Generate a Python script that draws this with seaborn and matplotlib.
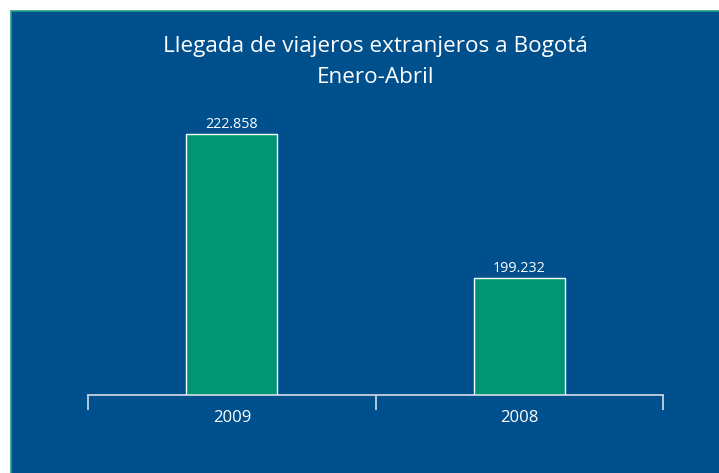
import matplotlib
matplotlib.use("Agg")
import matplotlib.pyplot as plt
import seaborn as sns
import pandas as pd
from matplotlib.patches import Rectangle

# Data
years = ["2009", "2008"]
travelers = [222858, 199232]
title_lines = ["Llegada de viajeros extranjeros a Bogotá", "Enero-Abril"]

sns.set_style("white")
plt.rcParams["font.family"] = ["Open Sans", "DejaVu Sans"]

W, H = 719, 473
fig = plt.figure(figsize=(W / 100, H / 100), dpi=100)
fig.patch.set_facecolor("white")

BLUE = "#00508E"
GREEN = "#009673"
AXIS = "#D3DEEA"

# blue panel with green border
fig.patches.append(Rectangle((11 / W, -0.1), 1.2, (H - 11) / H + 0.1,
                             transform=fig.transFigure, facecolor=BLUE,
                             edgecolor="#1FA37A", linewidth=1.2, zorder=-5))

ax_bottom = (H - 395) / H
ax_top_px = 100
ax = fig.add_axes([88 / W, ax_bottom, (663 - 88) / W, (395 - ax_top_px) / H])
ax.set_facecolor("none")
ax.set_zorder(2)

df = pd.DataFrame({"year": years, "value": travelers})
sns.barplot(data=df, x="year", y="value", order=years, color=GREEN,
            saturation=1, width=0.315, edgecolor="white", linewidth=1.0, ax=ax)

k = 0.006095  # px per unit
ymin = 180000
ax.set_ylim(ymin, ymin + (395 - ax_top_px) / k)
ax.set_xlim(-0.5, 1.5)

labels = [f"{v:,}".replace(",", ".") for v in travelers]
ax.bar_label(ax.containers[0], labels=labels, padding=1.5, color="white", fontsize=10.3)

for s in ["top", "right", "left"]:
    ax.spines[s].set_visible(False)
ax.spines["bottom"].set_color(AXIS)
ax.spines["bottom"].set_linewidth(1.2)
ax.yaxis.set_visible(False)
ax.set_xlabel("")
ax.set_ylabel("")

ax.set_xticks([0, 1])
ax.set_xticklabels(years)
ax.set_xticks([-0.5, 0.5, 1.5], minor=True)
ax.tick_params(axis="x", which="major", length=0, pad=11, labelcolor="white", labelsize=12)
ax.tick_params(axis="x", which="minor", length=10.5, width=1.2, color=AXIS, direction="out", bottom=True)

fig.text(375.5 / W, 1 - 36 / H, "\n".join(title_lines), ha="center", va="top",
         color="white", fontsize=16.2, linespacing=1.62, zorder=3)

fig.savefig("out.png", dpi=100, facecolor=fig.get_facecolor())
